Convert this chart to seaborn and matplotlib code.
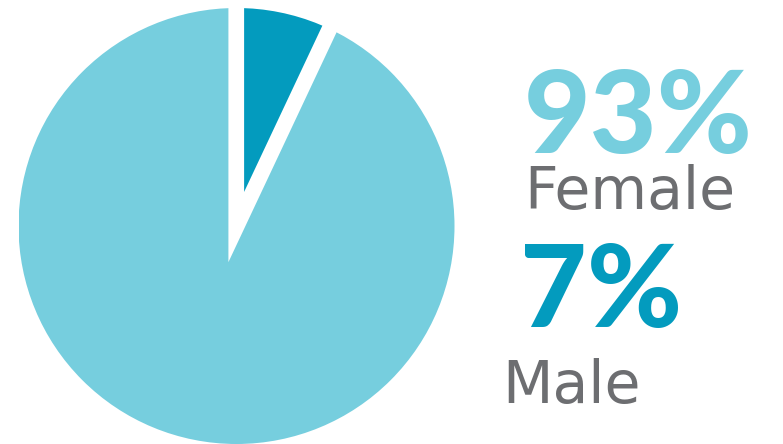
import matplotlib
matplotlib.use("Agg")
import matplotlib.pyplot as plt
import seaborn as sns
from matplotlib.patches import Circle

# ---- data ----
categories = ["Female", "Male"]
shares = [93, 7]
pct_labels = ["93%", "7%"]
colors = ["#76CEDE", "#039BBE"]
text_gray = "#6D6E71"

sns.set_theme(style="white")
plt.rcParams["font.family"] = ["DejaVu Sans"]

W, H = 783, 444
fig = plt.figure(figsize=(W / 100, H / 100), dpi=100)
fig.patch.set_facecolor("white")

# circle centre (236.5, 226 from top), radius 218 px
cx, cy, r = 236.5, H - 226, 218
ax = fig.add_axes([(cx - r) / W, (cy - r) / H, 2 * r / W, 2 * r / H])

total = sum(shares)
start = 90 - shares[1] / total * 360
big_r = 1.4
wedges, _ = ax.pie(
    shares,
    colors=colors,
    startangle=start,
    counterclock=False,
    radius=big_r,
    explode=[0.17, 0.16],
    wedgeprops=dict(linewidth=0),
    frame=True,
)
ax.set_xlim(-1, 1)
ax.set_ylim(-1, 1)
ax.set_aspect("equal")
ax.axis("off")
clip = Circle((0, 0), 1.0, transform=ax.transData)
for w in wedges:
    w.set_clip_on(True)
    w.set_clip_path(clip)

# ---- texts ----
def ftext(x, y, s, **kw):
    fig.text(x / W, (H - y) / H, s, ha="left", va="baseline", **kw)

num_font = ["Lato", "DejaVu Sans"]
ftext(524, 153, pct_labels[0], fontsize=83, fontweight="black", color=colors[0], family=num_font)
ftext(524, 209, categories[0], fontsize=42, fontweight="normal", color=text_gray)
ftext(520, 327, pct_labels[1], fontsize=83, fontweight="black", color=colors[1], family=num_font)
ftext(502, 403, categories[1], fontsize=42, fontweight="normal", color=text_gray)

fig.savefig("out.png", dpi=100, facecolor="white")
